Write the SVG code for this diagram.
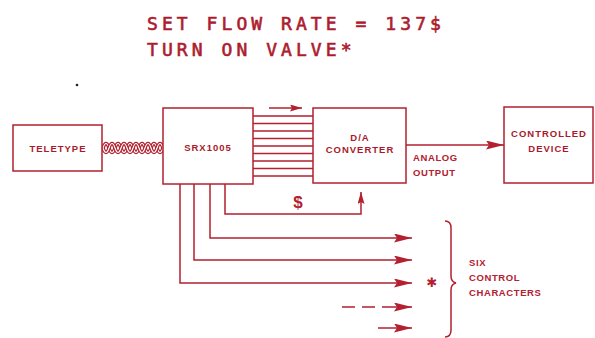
<svg xmlns="http://www.w3.org/2000/svg" width="595" height="338" viewBox="0 0 595 338">
<defs>
<style>
.ln{fill:none;stroke:#b3202f;stroke-width:1.5}
.box{fill:#fff;stroke:#b3202f;stroke-width:1.5}
.lbl{font-family:"Liberation Sans",Arial,sans-serif;font-weight:bold;font-size:9.5px;fill:#a81a2b;text-anchor:middle;letter-spacing:1px}
.side{font-family:"Liberation Sans",Arial,sans-serif;font-weight:bold;font-size:9.5px;fill:#b3202f;letter-spacing:0.6px}
.title{font-family:"DejaVu Sans Mono",monospace;font-size:18px;fill:#ad1c2e;stroke:#ad1c2e;stroke-width:0.6px;letter-spacing:4.06px}
</style>
<marker id="ah" markerUnits="userSpaceOnUse" markerWidth="18" markerHeight="9" refX="18" refY="4.5" orient="auto">
<path d="M0,0 L18,4.5 L0,9 L3,4.5 z" fill="#b3202f"/>
</marker>
<marker id="ahs" markerUnits="userSpaceOnUse" markerWidth="12" markerHeight="7" refX="12" refY="3.5" orient="auto">
<path d="M0,0 L12,3.5 L0,7 L2,3.5 z" fill="#b3202f"/>
</marker>
</defs>
<rect width="595" height="338" fill="#fff"/>

<g id="title">
<text class="title" x="147" y="30">SET FLOW RATE = 137$</text>
<text class="title" x="147" y="56">TURN ON VALVE*</text>
</g>
<circle cx="77" cy="85" r="1.3" fill="#222"/>

<g id="connectors">
<!-- twisted cable -->
<path d="M103,148 q3,-9 6,0 t6,0 t6,0 t6,0 t6,0 t6,0 t6,0 t6,0 t6,0 t6,0" fill="none" stroke="#b3202f" stroke-width="3.6"/>
<path d="M103,148 q3,-9 6,0 t6,0 t6,0 t6,0 t6,0 t6,0 t6,0 t6,0 t6,0 t6,0" fill="none" stroke="#fff" stroke-width="1.2"/>
<path d="M103,148 q3,9 6,0 t6,0 t6,0 t6,0 t6,0 t6,0 t6,0 t6,0 t6,0 t6,0" fill="none" stroke="#b3202f" stroke-width="3.6"/>
<path d="M103,148 q3,9 6,0 t6,0 t6,0 t6,0 t6,0 t6,0 t6,0 t6,0 t6,0 t6,0" fill="none" stroke="#fff" stroke-width="1.2"/>
<!-- bus -->
<path class="ln" d="M253,116H313M253,123.5H313M253,131H313M253,138.5H313M253,146H313M253,153.5H313M253,161H313M253,168.5H313M253,176H313"/>
<path class="ln" d="M269,108H302" marker-end="url(#ahs)"/>
<!-- analog output -->
<path class="ln" d="M406,145H504" marker-end="url(#ah)"/>
<!-- $ line -->
<path class="ln" d="M225,184V214H361V192" marker-end="url(#ahs)"/>
<!-- control lines -->
<path class="ln" d="M210,184V238H412" marker-end="url(#ah)"/>
<path class="ln" d="M194,184V260H412" marker-end="url(#ah)"/>
<path class="ln" d="M180,184V283H412" marker-end="url(#ah)"/>
<path class="ln" d="M342,307H395" stroke-dasharray="13,7"/>
<path class="ln" d="M395,307H412" marker-end="url(#ah)"/>
<path class="ln" d="M378,328H412" marker-end="url(#ah)"/>
<!-- brace -->
<path class="ln" d="M445,221Q451,221 451,228V276Q451,282 456,283Q451,284 451,290V330Q451,337 445,337"/>
</g>

<g id="teletype">
<rect class="box" x="13" y="125" width="89" height="46"/>
<text class="lbl" x="58" y="152">TELETYPE</text>
</g>
<g id="srx1005">
<rect class="box" x="163" y="108" width="90" height="76"/>
<text class="lbl" x="208" y="151">SRX1005</text>
</g>
<g id="da">
<rect class="box" x="313" y="108" width="93" height="75"/>
<text class="lbl" x="360" y="141">D/A</text>
<text class="lbl" x="360" y="153">CONVERTER</text>
</g>
<g id="device">
<rect class="box" x="504" y="107" width="89" height="76"/>
<text class="lbl" x="549" y="137">CONTROLLED</text>
<text class="lbl" x="549" y="152">DEVICE</text>
</g>
<g id="labels">
<text class="side" x="413" y="161">ANALOG</text>
<text class="side" x="413" y="176">OUTPUT</text>
<text x="298" y="208" font-family="Liberation Sans,Arial,sans-serif" font-weight="bold" font-size="17" fill="#b3202f" text-anchor="middle">$</text>
<text x="432" y="287" font-family="DejaVu Sans,sans-serif" font-size="13" fill="#b3202f" text-anchor="middle">✱</text>
<text class="side" x="469" y="266">SIX</text>
<text class="side" x="469" y="281">CONTROL</text>
<text class="side" x="469" y="296">CHARACTERS</text>
</g>
</svg>
